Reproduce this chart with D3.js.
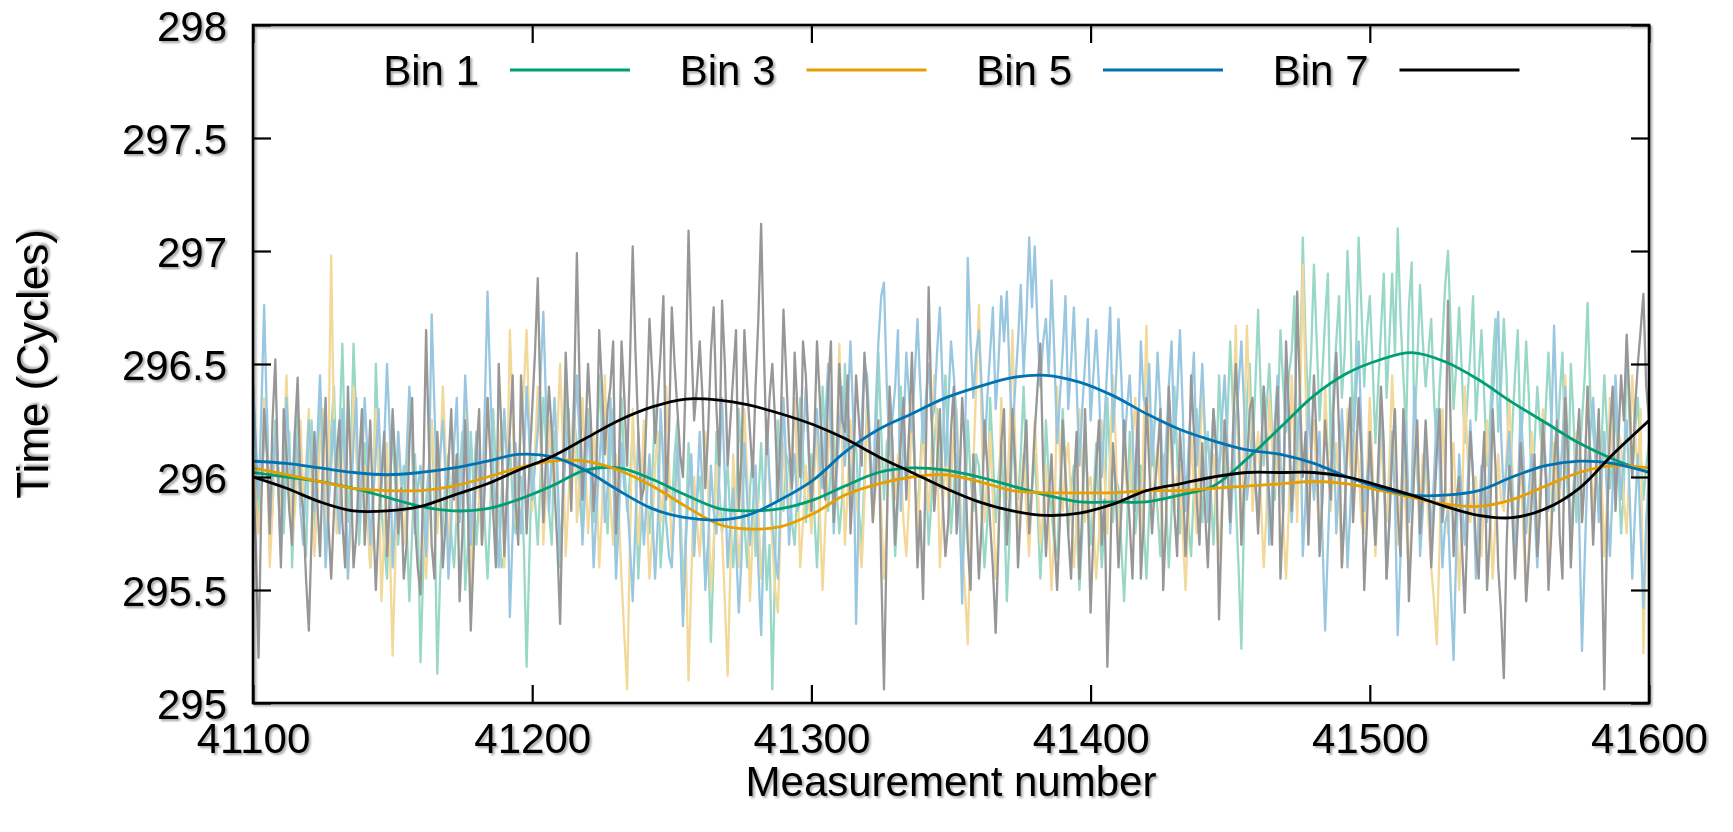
<!DOCTYPE html>
<html><head><meta charset="utf-8">
<script src="https://cdn.jsdelivr.net/npm/d3@7"></script>
<style>
html,body{margin:0;padding:0;background:#fff;}
svg text{font-family:"Liberation Sans",Arial,Helvetica,sans-serif;}
</style></head>
<body><svg id="chart" width="1733" height="832"></svg>
<script>
// ---------- data ----------
const seriesNames = ["Bin 1", "Bin 3", "Bin 5", "Bin 7"];
const lineColors = ["#009e73", "#e69f00", "#0072b2", "#000000"];
const rawColors  = ["#99d8c7", "#f3d999", "#99c7e0", "#979797"];
const xTicks = [41100, 41200, 41300, 41400, 41500, 41600];
const yTicks = [295, 295.5, 296, 296.5, 297, 297.5, 298];
const rawStart = 41100, rawStep = 1;

const rawBin1 = [
296.42,296.10,295.80,295.95,296.15,296.30,295.70,295.85,296.25,296.05,295.90,295.75,296.05,296.20,295.60,295.95,296.30,296.15,295.85,295.65,
296.10,296.25,295.75,295.90,296.35,296.05,295.65,295.85,296.20,296.40,295.95,296.20,296.59,296.10,295.80,296.05,296.59,296.25,295.70,295.95,
296.15,295.90,295.60,295.80,296.50,296.15,295.85,295.70,295.55,295.95,296.20,295.95,295.70,295.90,296.05,295.80,295.45,295.75,296.10,295.85,
295.18,295.60,295.90,296.05,296.25,295.90,295.13,295.55,295.80,296.00,296.10,295.75,295.60,295.85,296.00,296.20,295.50,295.70,296.20,295.95,
295.70,295.90,296.05,295.80,295.55,295.85,296.30,296.05,295.85,295.60,295.65,295.95,296.15,295.90,295.75,296.00,296.00,295.70,295.16,295.65,
296.10,295.90,295.70,296.00,296.35,296.15,295.85,295.70,296.20,296.00,295.60,295.85,296.40,296.15,295.95,296.25,296.15,295.90,295.75,296.05,
296.30,296.05,295.80,296.00,296.45,296.20,295.90,295.75,296.10,296.30,295.65,295.90,296.35,296.05,295.85,296.00,296.20,296.00,295.55,295.80,
296.10,295.90,295.75,296.00,296.30,296.10,295.60,295.80,296.05,295.95,295.85,296.10,296.25,295.90,295.50,295.75,296.15,295.95,295.70,295.90,
296.00,295.80,295.55,295.70,295.27,295.65,296.20,295.95,295.75,295.90,296.05,295.80,295.60,295.85,296.30,296.05,295.80,295.60,295.95,296.10,
295.65,295.90,296.15,295.85,295.50,295.70,295.06,295.60,296.25,296.00,295.85,296.10,296.05,295.80,295.70,295.95,296.35,296.10,295.80,295.95,
296.10,295.85,295.60,295.90,296.40,296.15,295.85,296.05,296.20,295.95,295.75,295.90,296.50,296.20,295.95,296.10,296.15,295.85,295.70,296.00,
296.35,296.10,295.85,296.05,296.55,296.20,295.90,296.15,296.20,295.95,295.65,295.90,296.40,296.15,296.00,296.20,296.25,296.05,295.80,296.05,
296.30,296.05,295.70,295.90,296.15,296.30,295.95,296.15,296.45,296.10,295.75,295.95,296.10,295.85,295.55,295.80,296.25,296.00,295.85,296.10,
296.05,295.85,295.60,295.80,296.35,296.10,295.80,296.00,296.15,295.90,295.45,295.75,296.20,296.00,295.90,296.10,296.40,296.05,295.70,295.95,
296.10,295.85,295.55,295.80,296.25,296.00,295.85,295.70,295.65,295.95,296.30,296.05,295.75,295.95,296.05,295.80,295.50,295.75,296.20,295.95,
295.70,295.90,296.15,295.85,295.60,295.80,296.35,296.05,295.80,296.00,295.95,295.70,295.45,295.75,296.20,295.95,295.75,295.90,296.05,295.80,
295.55,295.85,296.25,296.00,295.85,295.65,296.10,295.90,295.60,295.85,296.40,296.10,295.75,295.95,296.00,295.80,295.65,295.95,296.30,296.05,
295.80,296.05,296.20,295.95,295.70,296.00,296.45,296.15,295.95,296.25,296.60,296.30,295.90,295.60,295.24,295.85,296.35,296.50,296.10,296.40,
296.74,296.35,296.05,296.30,296.50,296.20,295.90,296.25,296.65,296.40,296.20,296.45,296.55,296.80,296.00,296.40,297.06,296.60,296.30,296.55,
296.94,296.60,296.25,296.45,296.70,296.90,296.10,296.40,296.60,296.80,296.35,296.55,297.00,296.70,296.20,296.50,297.06,296.75,296.40,296.65,
296.80,296.50,296.15,296.40,296.65,296.90,296.35,296.60,296.90,296.55,297.10,296.70,296.45,296.20,296.75,296.95,296.20,296.50,296.85,296.60,
296.40,296.55,296.70,296.35,296.10,296.40,296.60,296.85,297.00,296.65,296.30,296.50,296.75,296.45,296.15,296.35,296.55,296.80,296.25,296.45,
296.65,296.35,296.05,296.25,296.50,296.70,296.20,296.40,296.70,296.45,295.95,296.20,296.45,296.65,296.15,296.30,296.60,296.35,295.90,296.15,
296.40,296.20,296.05,296.30,296.55,296.25,295.85,296.10,296.35,296.55,296.10,295.90,296.50,296.25,295.80,296.05,296.25,296.45,296.77,296.35,
296.20,296.05,295.85,296.15,296.45,296.20,295.95,296.10,296.30,296.05,295.75,295.95,296.60,296.25,296.00,296.20,296.35,296.10,295.90,296.05,
296.15];

const rawBin3 = [
296.10,295.95,295.75,295.90,296.35,296.10,295.60,295.85,296.20,295.95,295.85,296.15,296.45,296.05,295.70,295.85,296.05,296.25,295.90,296.05,
296.30,295.95,295.65,295.90,296.15,296.30,295.80,296.10,296.98,296.20,295.75,296.00,296.25,295.90,295.55,295.80,296.40,296.10,295.85,295.95,
296.05,295.80,295.60,295.90,296.30,296.00,295.45,295.75,296.15,295.70,295.21,295.65,296.20,295.95,295.70,295.90,296.35,296.10,295.80,295.95,
296.00,295.80,295.55,295.85,296.25,296.00,295.75,296.05,296.40,296.10,295.65,295.90,296.10,295.80,295.85,296.05,296.30,296.00,295.50,295.85,
296.15,295.90,295.70,296.00,296.35,296.10,295.90,295.75,296.05,296.25,295.60,295.95,296.65,296.30,295.80,296.05,296.20,296.40,296.65,296.20,
295.85,296.10,296.40,296.15,295.70,295.95,296.25,296.00,295.95,296.20,296.50,296.15,295.65,295.90,296.15,296.35,295.80,296.00,296.35,296.05,
295.75,295.95,296.20,296.00,295.60,295.85,296.45,296.10,295.90,295.70,296.10,295.85,295.55,295.30,295.06,295.70,296.30,296.00,295.70,295.95,
296.25,295.90,295.55,295.75,296.05,296.20,295.80,295.95,296.40,296.05,295.65,295.85,296.15,295.80,295.40,295.70,295.10,295.55,296.00,295.80,
295.65,295.90,296.20,295.95,295.50,295.70,296.05,295.85,295.75,295.45,295.12,295.60,296.10,295.85,295.60,295.80,296.30,296.00,295.45,295.75,
296.00,295.85,295.55,295.75,296.25,295.95,295.70,295.50,295.40,295.80,296.15,295.95,295.85,296.10,296.35,296.00,295.60,295.80,296.05,295.90,
295.75,296.00,296.20,295.85,295.50,295.80,296.10,296.30,295.85,296.10,296.59,296.15,295.70,295.95,296.25,296.00,295.95,295.75,295.60,295.90,
296.30,296.05,295.80,295.95,296.15,295.85,295.55,295.80,296.40,296.15,295.90,296.10,296.05,295.80,295.65,295.90,296.35,296.10,295.75,296.00,
296.20,296.00,295.85,296.10,296.45,296.15,295.60,295.85,296.10,295.90,295.95,296.20,296.30,296.00,295.70,295.50,295.26,295.75,296.05,296.40,
296.76,296.20,295.80,296.00,296.20,295.90,295.55,295.75,296.35,296.10,295.90,296.20,296.65,296.15,295.75,295.95,296.10,295.85,295.65,295.95,
296.25,296.00,295.70,295.85,296.05,295.80,295.50,295.75,296.40,296.10,295.85,296.05,296.15,295.90,295.60,295.80,296.30,296.05,295.80,295.95,
296.00,295.80,295.55,295.75,296.25,296.00,295.75,296.10,296.45,296.15,295.65,295.90,296.10,295.95,295.90,296.15,296.35,296.05,295.70,296.20,
296.67,296.10,295.80,296.00,296.15,295.90,295.60,295.80,296.30,296.05,295.85,296.00,296.05,295.75,295.50,295.80,296.20,295.95,295.75,296.05,
296.40,296.15,295.90,296.05,296.10,295.85,295.65,295.90,296.25,296.00,295.80,296.20,296.67,296.10,295.70,296.20,296.67,296.30,295.85,296.05,
296.20,295.90,295.60,295.85,296.35,296.15,295.95,296.10,296.10,295.80,295.55,295.85,296.45,296.15,295.80,296.30,296.94,296.40,295.90,296.10,
296.25,295.95,295.70,295.90,296.40,296.10,295.85,296.05,296.15,295.90,295.60,295.85,296.30,296.05,295.95,296.20,296.05,295.80,295.75,296.00,
296.35,296.05,295.65,295.90,296.20,295.95,295.80,296.05,296.45,296.15,295.70,295.90,296.10,295.80,295.55,295.80,296.25,296.00,295.85,296.10,
296.05,295.80,295.60,295.45,295.26,295.70,296.30,296.00,295.75,295.95,296.15,295.85,295.50,295.80,296.40,296.10,295.80,295.95,296.00,295.75,
295.65,295.95,296.25,295.90,295.55,295.80,296.10,295.90,295.85,296.10,296.35,296.05,295.70,295.90,296.05,295.75,295.45,295.70,296.20,295.95,
295.75,296.00,296.30,296.05,295.60,295.85,296.15,295.90,295.90,296.15,296.45,296.10,295.70,295.95,296.20,296.00,295.80,296.05,296.40,296.10,
295.85,296.05,296.25,296.00,295.65,295.90,296.35,296.10,295.95,296.20,296.15,295.90,295.75,296.05,296.45,296.20,296.00,296.30,295.22,295.80,
296.05];

const rawBin5 = [
296.40,296.15,295.90,296.30,296.76,296.25,295.80,296.00,296.20,295.95,295.65,295.90,296.35,296.10,295.95,296.20,296.10,295.85,295.70,296.00,
296.25,296.05,295.85,296.15,296.45,296.10,295.60,295.85,296.05,296.25,295.90,295.75,296.30,296.05,295.55,295.85,296.15,296.35,295.80,296.05,
296.35,296.10,295.70,295.90,296.10,296.30,295.95,296.15,296.50,296.20,295.60,295.85,296.20,296.00,295.85,296.10,296.40,296.15,295.75,295.95,
296.05,295.85,295.65,296.00,296.72,296.30,295.90,296.10,296.25,296.00,295.55,295.80,296.15,296.35,295.80,296.05,296.45,296.20,295.70,295.95,
296.20,296.00,295.85,296.30,296.82,296.40,296.05,295.85,295.60,295.90,296.30,296.05,295.38,295.75,296.15,295.95,295.75,296.05,296.40,296.15,
295.90,296.05,296.20,296.45,296.73,296.30,295.85,296.10,296.35,296.05,295.65,295.90,296.10,296.30,295.95,296.20,296.45,296.15,295.70,295.95,
296.25,296.00,295.60,295.85,296.05,296.25,295.80,295.95,296.35,296.05,295.55,295.80,296.15,295.95,295.90,295.70,295.45,295.80,296.20,295.95,
295.70,295.90,296.10,295.85,295.55,295.80,296.30,296.05,295.80,295.65,295.60,295.90,296.15,295.75,295.34,295.70,295.95,296.10,295.65,295.90,
296.20,295.95,295.50,295.70,296.05,295.85,295.75,296.00,296.35,296.00,295.60,295.80,295.95,295.70,295.40,295.65,296.15,295.90,295.70,295.85,
296.05,295.60,295.30,295.75,296.25,296.00,295.80,295.65,295.55,295.90,296.35,296.05,295.70,295.95,296.10,295.85,295.90,296.15,296.40,296.10,
295.85,296.10,296.30,296.05,295.95,296.25,296.50,296.20,295.75,296.00,296.20,296.40,296.05,296.30,296.60,296.25,295.35,295.90,296.25,296.50,
296.45,296.15,295.90,296.30,296.60,296.80,296.86,296.40,296.10,296.25,296.40,296.65,295.85,296.20,296.55,296.35,296.20,296.45,296.70,296.40,
296.15,296.35,296.50,296.25,296.30,296.55,296.75,296.40,296.05,296.30,296.60,296.45,296.25,295.90,295.44,296.10,296.97,296.60,296.35,296.55,
296.65,296.40,296.10,296.35,296.55,296.75,296.30,296.50,296.80,296.60,296.82,296.45,296.20,296.40,296.60,296.85,296.45,296.70,297.06,296.75,
297.02,296.65,296.40,296.60,296.70,296.45,296.87,296.55,296.15,296.35,296.55,296.80,296.30,296.50,296.75,296.40,296.05,296.30,296.50,296.70,
296.25,296.45,296.65,296.40,296.00,296.25,296.50,296.75,296.20,296.40,296.70,296.45,296.10,296.30,296.45,296.20,295.85,296.15,296.60,296.35,
296.30,296.50,296.05,296.25,296.55,296.30,295.90,296.15,296.40,296.60,296.15,296.35,296.65,296.30,295.85,296.10,296.35,296.55,296.05,296.25,
296.50,296.20,295.80,296.05,296.30,296.15,296.00,296.25,296.45,296.15,295.75,296.00,296.25,296.40,296.60,296.30,295.90,296.05,296.20,295.95,
295.85,296.10,296.40,296.15,295.70,295.95,296.25,296.45,296.05,295.85,296.50,296.20,295.80,296.00,296.15,296.35,295.65,295.90,296.35,296.10,
295.90,296.05,296.20,295.75,295.32,295.70,296.05,296.25,295.75,296.00,296.30,296.05,295.60,295.85,296.15,296.35,296.60,296.20,295.85,296.00,
296.10,295.90,295.70,295.95,296.35,296.05,295.55,295.80,296.20,295.90,295.30,295.65,296.05,296.25,295.80,295.95,296.40,296.10,295.65,295.85,
296.15,295.95,295.75,296.00,296.30,296.05,295.60,295.80,295.85,295.50,295.19,295.70,296.10,295.90,295.70,295.95,296.25,296.00,295.55,295.80,
296.05,295.85,295.80,296.10,296.35,296.55,296.73,296.20,295.90,296.05,296.20,295.95,295.65,295.90,296.30,296.10,295.75,295.95,296.10,295.85,
295.60,295.90,296.25,296.05,295.85,296.20,296.67,296.25,295.95,296.15,296.40,296.05,295.70,295.95,296.15,295.80,295.23,295.65,296.05,296.20,
296.35,296.10,295.80,296.00,296.20,295.90,295.65,295.95,296.45,296.15,295.90,296.10,296.25,295.95,295.55,295.85,296.10,295.75,295.42,295.80,
296.00];

const rawBin7 = [
296.05,295.70,295.20,295.90,296.30,296.10,295.75,296.25,296.52,296.00,295.60,296.30,296.10,295.85,295.70,296.20,296.44,295.95,295.85,295.55,
295.32,295.75,296.20,295.90,295.65,296.05,296.35,295.80,295.55,295.85,296.10,296.25,295.80,295.60,296.40,296.05,295.60,295.75,296.05,296.30,
295.70,295.95,296.25,295.85,295.50,295.80,296.00,296.20,295.65,295.90,296.30,296.05,295.75,295.95,295.55,295.70,296.15,296.35,295.80,295.60,
295.48,296.00,296.65,296.15,295.70,295.55,296.20,295.95,295.60,295.80,296.05,296.30,295.90,296.10,295.45,295.75,296.25,295.85,295.32,295.65,
296.10,296.30,295.70,295.95,296.35,296.10,295.85,295.60,296.50,296.20,295.65,295.95,296.20,296.45,295.90,295.70,296.45,296.15,295.75,296.05,
296.30,296.55,296.88,296.30,295.80,296.10,296.40,296.20,295.95,295.70,295.35,295.95,296.55,296.25,295.85,296.35,296.99,296.40,295.90,296.15,
296.50,296.25,295.85,296.05,296.65,296.40,296.10,296.30,296.40,296.60,295.75,296.00,296.60,296.35,296.05,296.50,297.02,296.55,296.20,295.90,
295.95,296.30,296.70,296.45,296.15,296.35,296.55,296.80,295.90,296.20,296.75,296.50,296.30,296.10,296.00,296.45,297.09,296.60,296.25,296.40,
296.60,296.35,295.95,296.20,296.55,296.75,296.30,296.05,296.78,296.50,296.05,296.25,296.45,296.65,295.85,296.10,296.65,296.40,296.20,296.00,
296.40,296.70,297.12,296.55,296.10,296.35,296.50,296.25,295.90,296.20,296.74,296.45,296.15,295.95,296.55,296.30,296.00,296.60,296.45,296.15,
295.85,296.15,296.60,296.35,296.05,295.90,296.40,296.60,295.80,296.05,296.50,296.25,296.20,296.45,295.75,296.00,296.45,296.25,296.05,296.55,
296.35,296.10,295.80,296.00,296.25,295.60,295.06,295.75,296.40,296.15,295.70,295.95,296.15,296.35,295.90,296.20,296.55,296.05,295.60,295.85,
295.46,296.10,296.84,296.30,295.85,296.05,296.30,295.90,295.65,295.80,296.20,296.40,295.75,295.95,296.35,296.10,295.70,295.50,296.10,295.85,
295.55,295.80,296.25,296.05,295.80,295.60,295.31,295.70,296.15,296.30,295.70,295.90,296.30,296.05,295.60,295.85,296.05,296.25,295.75,295.95,
296.20,296.40,296.59,296.05,295.65,295.90,296.10,295.75,295.50,295.80,296.25,296.00,295.75,295.55,295.95,296.20,295.55,295.85,296.30,295.90,
295.40,295.75,296.05,296.25,295.70,295.90,295.16,295.60,296.15,295.95,295.60,295.85,296.25,296.00,295.80,295.55,296.00,296.30,295.55,295.80,
296.35,296.05,295.75,295.95,296.10,296.30,295.50,295.80,296.40,296.15,295.85,295.65,296.20,296.00,295.65,295.90,296.45,296.20,295.90,295.70,
296.15,295.85,295.60,295.95,296.30,296.10,295.37,295.80,296.25,296.05,295.80,296.20,296.50,296.25,295.70,295.95,296.05,296.30,296.35,296.00,
295.75,296.05,296.40,296.15,295.90,295.70,296.20,296.40,295.55,295.85,296.60,296.30,295.85,296.10,296.82,296.35,296.00,296.20,295.70,296.10,
296.45,296.15,295.65,295.90,296.25,296.05,295.90,296.30,296.55,296.20,295.60,295.85,296.15,296.35,295.80,296.05,296.35,296.10,295.50,295.80,
296.20,295.95,295.70,296.05,296.40,296.15,295.55,295.80,296.10,296.30,295.85,295.65,296.30,296.05,295.45,295.75,296.05,296.25,295.75,295.95,
296.25,296.00,295.60,295.85,296.10,296.30,295.80,295.95,296.78,296.20,295.65,295.90,296.00,295.70,295.40,295.80,296.20,296.00,295.70,295.55,
295.95,296.20,295.50,295.75,296.30,296.05,295.60,295.40,295.11,295.70,296.05,295.85,295.55,295.80,296.15,295.95,295.45,295.65,295.90,296.10,
295.65,295.85,296.25,296.00,295.50,295.75,296.05,296.25,295.75,295.55,296.35,296.10,295.60,295.90,296.10,296.30,295.80,296.00,296.40,296.05,
295.70,296.00,296.30,295.75,295.06,295.80,296.20,296.40,295.85,296.15,296.45,296.25,296.63,296.35,296.00,296.30,296.50,296.65,296.81,296.40,
296.25];

// smoothed curves
const smoothX = [41100,41112,41124,41136,41148,41160,41172,41184,41195,41207,41219,41231,41243,41255,41267,
41277,41289,41301,41312,41324,41336,41348,41360,41372,41384,41396,41408,41420,
41432,41444,41456,41468,41480,41492,41504,41515,41527,41539,41551,41563,41575,41587,41600];
const smoothBin1 = [296.02,296.00,295.98,295.95,295.91,295.87,295.85,295.86,295.90,295.96,296.03,296.04,295.99,295.92,295.86,
295.85,295.86,295.90,295.96,296.02,296.04,296.03,296.00,295.96,295.92,295.89,295.89,295.89,
295.92,295.96,296.08,296.22,296.36,296.46,296.52,296.55,296.51,296.43,296.33,296.24,296.15,296.08,296.02];
const smoothBin3 = [296.04,296.01,295.98,295.95,295.94,295.94,295.96,296.00,296.04,296.07,296.07,296.03,295.96,295.87,295.79,
295.77,295.78,295.84,295.92,295.97,296.00,296.01,295.98,295.94,295.93,295.93,295.93,295.94,
295.94,295.95,295.96,295.97,295.98,295.97,295.94,295.91,295.88,295.87,295.90,295.96,296.02,296.05,296.04];
const smoothBin5 = [296.07,296.06,296.04,296.02,296.01,296.02,296.04,296.07,296.10,296.09,296.03,295.94,295.86,295.82,295.81,
295.83,295.90,295.99,296.11,296.21,296.28,296.35,296.40,296.44,296.45,296.42,296.36,296.28,
296.21,296.16,296.12,296.10,296.06,296.00,295.95,295.92,295.92,295.94,296.00,296.05,296.07,296.06,296.02];
const smoothBin7 = [296.00,295.95,295.89,295.85,295.85,295.87,295.92,295.97,296.03,296.09,296.17,296.25,296.31,296.345,296.34,
296.32,296.28,296.23,296.17,296.09,296.02,295.95,295.89,295.85,295.83,295.84,295.88,295.94,
295.97,296.00,296.02,296.02,296.02,296.00,295.96,295.92,295.87,295.83,295.82,295.86,295.95,296.10,296.25];

const rawSeries = [rawBin1, rawBin3, rawBin5, rawBin7];
const smoothSeries = [smoothBin1, smoothBin3, smoothBin5, smoothBin7];

// ---------- layout ----------
const L = 253, R = 1649, T = 25, B = 703;
const FONT = 42;
const svg = d3.select("#chart");

const defs = svg.append("defs");
const f = defs.append("filter").attr("id","shadow").attr("x","-10%").attr("y","-10%").attr("width","130%").attr("height","130%");
f.append("feDropShadow").attr("dx",2).attr("dy",2).attr("stdDeviation",1)
 .attr("flood-color","#000").attr("flood-opacity",0.35);
defs.append("clipPath").attr("id","plotclip").append("rect")
 .attr("x",L).attr("y",T).attr("width",R-L).attr("height",B-T);

const x = d3.scaleLinear().domain([41100, 41600]).range([L, R]);
const y = d3.scaleLinear().domain([295, 298]).range([B, T]);

// raw series
const plot = svg.append("g").attr("clip-path","url(#plotclip)");
const rawLine = d3.line().x((d,i)=>x(rawStart + i*rawStep)).y(d=>y(d));
rawSeries.forEach((s,k)=>{
  plot.append("path").datum(s).attr("d",rawLine)
   .attr("fill","none").attr("stroke",rawColors[k]).attr("stroke-width",2.3)
   .attr("stroke-linejoin","round");
});
// smooth curves
const smLine = d3.line().x((d,i)=>x(smoothX[i])).y(d=>y(d)).curve(d3.curveCatmullRom.alpha(0.5));
smoothSeries.forEach((s,k)=>{
  plot.append("path").datum(s).attr("d",smLine)
   .attr("fill","none").attr("stroke",lineColors[k]).attr("stroke-width",2.8)
   .attr("stroke-linejoin","round");
});

// axes
const TL = 18;
function styleAxis(g){
  g.select(".domain").remove();
  g.selectAll(".tick line").attr("stroke","#000").attr("stroke-width",2.2);
  g.selectAll("text").attr("font-size",FONT).attr("fill","#000")
   .attr("font-family","'Liberation Sans',Arial,Helvetica,sans-serif")
   .attr("filter","url(#shadow)");
}
svg.append("g").attr("transform",`translate(0,${B})`)
  .call(d3.axisBottom(x).tickValues(xTicks).tickSizeInner(-TL).tickSizeOuter(0).tickPadding(20).tickFormat(d3.format("d")))
  .call(styleAxis);
svg.append("g").attr("transform",`translate(0,${T})`)
  .call(d3.axisTop(x).tickValues(xTicks).tickSizeInner(-TL).tickSizeOuter(0).tickFormat(""))
  .call(styleAxis);
const yl = svg.append("g").attr("transform",`translate(${L},0)`)
  .call(d3.axisLeft(y).tickValues(yTicks).tickSizeInner(-TL).tickSizeOuter(0).tickPadding(26).tickFormat(d=>String(d)))
  .call(styleAxis);
yl.selectAll("text").attr("dy","0.36em");
svg.append("g").attr("transform",`translate(${R},0)`)
  .call(d3.axisRight(y).tickValues(yTicks).tickSizeInner(-TL).tickSizeOuter(0).tickFormat(""))
  .call(styleAxis);

// frame
svg.append("rect").attr("x",L).attr("y",T).attr("width",R-L).attr("height",B-T)
  .attr("fill","none").attr("stroke","#000").attr("stroke-width",2.6).attr("filter","url(#shadow)");

// axis titles
svg.append("text").attr("x",(L+R)/2).attr("y",796).attr("text-anchor","middle")
  .attr("font-size",FONT).attr("filter","url(#shadow)").text("Measurement number");
svg.append("text").attr("transform",`translate(48,${(T+B)/2}) rotate(-90)`).attr("text-anchor","middle")
  .attr("font-size",FONT+2).attr("filter","url(#shadow)").text("Time (Cycles)");

// legend
const legStart = 510, legStep = 296.5, legY = 70, legLen = 120;
seriesNames.forEach((n,k)=>{
  const lx = legStart + k*legStep;
  svg.append("text").attr("x",lx-31).attr("y",legY+15).attr("text-anchor","end")
    .attr("font-size",FONT).attr("filter","url(#shadow)").text(n);
  svg.append("line").attr("x1",lx).attr("x2",lx+legLen).attr("y1",legY).attr("y2",legY)
    .attr("stroke",lineColors[k]).attr("stroke-width",3);
});
</script></body></html>
